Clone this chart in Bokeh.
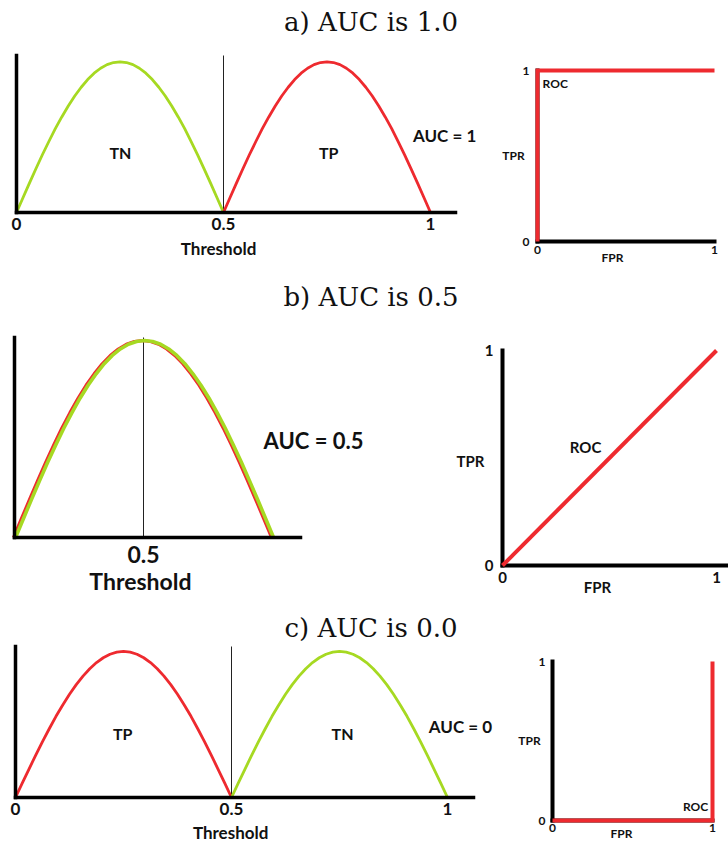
from bokeh.plotting import figure
from bokeh.layouts import column, row
from bokeh.models import Range1d, FixedTicker, Label, Div
from bokeh.embed import file_html
from bokeh.resources import INLINE

# ---- data -------------------------------------------------------------
# Half-wave score-density profile: position within the class span and relative height
shape_t = [i / 32 for i in range(33)]
shape_h = [0.000, 0.098, 0.195, 0.290, 0.383, 0.471, 0.556, 0.634, 0.707,
           0.773, 0.831, 0.882, 0.924, 0.957, 0.981, 0.995, 1.000,
           0.995, 0.981, 0.957, 0.924, 0.882, 0.831, 0.773, 0.707,
           0.634, 0.556, 0.471, 0.383, 0.290, 0.195, 0.098, 0.000]

titles = ["a) AUC is 1.0", "b) AUC is 0.5", "c) AUC is 0.0"]

# class score spans (start, end) on the threshold axis and curve peaks
a_neg_span, a_pos_span, a_peak = (0.0, 0.5), (0.5, 1.0), 0.96
b_neg_span, b_pos_span, b_peak = (0.004, 1.004), (-0.004, 0.996), 0.985
c_pos_span, c_neg_span, c_peak = (0.0, 0.5), (0.5, 1.0), 0.967

threshold = 0.5
ticks_a = [0, 0.5, 1]
ticks_b = [0.5]
ticks_c = [0, 0.5, 1]

# ROC curves (FPR, TPR)
roc_a_fpr, roc_a_tpr = [0, 0, 1], [0, 1, 1]
roc_b_fpr, roc_b_tpr = [0, 1], [0, 1]
roc_c_fpr, roc_c_tpr = [0, 1, 1], [0, 0, 1]

auc_text = ["AUC = 1", "AUC = 0.5", "AUC = 0"]

GREEN = "#a6d922"
RED = "#ee2a2f"
INK = "#111111"
FONT = "Lato"


def curve(span, peak):
    x0, x1 = span
    xs = [x0 + t * (x1 - x0) for t in shape_t]
    ys = [h * peak for h in shape_h]
    return xs, ys


def span_range(v0, p0, v1, p1, size, flip=False):
    """Range whose values v0/v1 land on pixels p0/p1 of a canvas `size` px long."""
    s = (p1 - p0) / (v1 - v0)
    if flip:  # pixels counted from the top
        end = v0 + p0 / -s
        return Range1d(end - size / -s, end)
    start = v0 - p0 / s
    return Range1d(start, start + size / s)


def title_div(text, height, center):
    html = ('<div style="font-family:\'DejaVu Serif\';font-size:26px;text-align:center;'
            'width:728px;position:relative;left:7px;line-height:%dpx;color:#111;">%s</div>'
            % (2 * center, text))
    return Div(text=html, width=728, height=height, margin=(0, 0, 0, 0))


def base_fig(width, height, xr, yr):
    p = figure(width=width, height=height, x_range=xr, y_range=yr,
               output_backend="svg", toolbar_location=None, margin=(0, 0, 0, 0),
               min_border=0)
    p.grid.visible = False
    p.outline_line_color = None
    return p


def style_axis(ax, ticks, width, tick_size):
    ax.fixed_location = 0
    ax.ticker = FixedTicker(ticks=ticks)
    ax.axis_line_width = width
    ax.axis_line_cap = "square"
    ax.major_tick_line_color = None
    ax.minor_tick_line_color = None
    ax.major_tick_out = 0
    ax.minor_tick_out = 0
    ax.major_label_text_font = FONT
    ax.major_label_text_font_style = "bold"
    ax.major_label_text_font_size = tick_size
    ax.major_label_text_color = INK


def text(p, x, y, s, size):
    p.add_layout(Label(x=x, y=y, text=s, text_align="center", text_baseline="middle",
                       text_font=FONT, text_font_style="bold", text_font_size=size,
                       text_color=INK))


def dist_fig(width, height, xr, yr, ticks, x_end, tick_size, tick_off, label_at, label_size):
    p = base_fig(width, height, xr, yr)
    ax, ay = p.xaxis[0], p.yaxis[0]
    style_axis(ax, ticks, 3.5, tick_size)
    ax.bounds = (0, x_end)
    ax.major_label_overrides = {0: "0", 0.5: "0.5", 1: "1"}
    ax.major_label_standoff = tick_off
    style_axis(ay, [], 3.5, tick_size)
    ay.bounds = (0, 1)
    text(p, label_at[0], label_at[1], "Threshold", label_size)
    # decision threshold
    p.segment(x0=[threshold], y0=[0], x1=[threshold], y1=[1], line_color="#222", line_width=1)
    return p


def roc_fig(width, height, xr, yr, x_end, font_size, x_tick_off, y_tick_off, tpr_at, fpr_at):
    p = base_fig(width, height, xr, yr)
    ax, ay = p.xaxis[0], p.yaxis[0]
    style_axis(ax, [0, 1], 4, font_size)
    style_axis(ay, [0, 1], 4, font_size)
    ax.bounds = (0, x_end)
    ay.bounds = (0, 1)
    ax.major_label_standoff = x_tick_off
    ay.major_label_standoff = y_tick_off
    text(p, tpr_at[0], tpr_at[1], "TPR", font_size)
    text(p, fpr_at[0], fpr_at[1], "FPR", font_size)
    return p


# ---- a) perfectly separated -------------------------------------------
da = dist_fig(480, 230, span_range(0, 16, 1, 430, 480), span_range(0, 172, 1, 15, 230, True),
              ticks_a, 1.06, "17px", 5, (0.488, -0.229), "17px")
xs, ys = curve(a_neg_span, a_peak)
da.line(xs, ys, line_color=GREEN, line_width=2.8, line_join="round")
xs, ys = curve(a_pos_span, a_peak)
da.line(xs, ys, line_color=RED, line_width=2.8, line_join="round")
text(da, 0.251, 0.38, "TN", "16px")
text(da, 0.754, 0.38, "TP", "16px")
text(da, 1.034, 0.49, auc_text[0], "17px")

ra = roc_fig(248, 230, span_range(0, 57, 1, 234, 248), span_range(0, 201, 1, 30, 230, True),
             1, "12px", 4, 8, (-0.136, 0.503), (0.424, -0.094))
ra.line(roc_a_fpr, roc_a_tpr, line_color=RED, line_width=4, line_join="miter", level="overlay")
text(ra, 0.1, 0.925, "ROC", "12px")

# ---- b) fully overlapping ----------------------------------------------
db = dist_fig(440, 278, span_range(0, 14, 1, 272, 440), span_range(0, 215, 1, 15, 278, True),
              ticks_b, 1.108, "23px", 8, (0.488, -0.215), "23px")
xs, ys = curve(b_pos_span, b_peak)
db.line(xs, ys, line_color=RED, line_width=3, line_join="round")
xs, ys = curve(b_neg_span, b_peak)
db.line(xs, ys, line_color=GREEN, line_width=3.6, line_join="round")
text(db, 1.159, 0.485, auc_text[1], "22px")

rb = roc_fig(288, 278, span_range(0, 62, 1, 276, 288), span_range(0, 243, 1, 28, 278, True),
             1.056, "15px", 6, 9, (-0.150, 0.488), (0.444, -0.102))
rb.line(roc_b_fpr, roc_b_tpr, line_color=RED, line_width=4, level="overlay")
text(rb, 0.388, 0.549, "ROC", "15px")

# ---- c) perfectly inverted ---------------------------------------------
dc = dist_fig(500, 207, span_range(0, 15, 1, 447, 500), span_range(0, 155, 1, 4, 207, True),
              ticks_c, 1.06, "17px", 5, (0.498, -0.232), "17px")
xs, ys = curve(c_pos_span, c_peak)
dc.line(xs, ys, line_color=RED, line_width=2.8, line_join="round")
xs, ys = curve(c_neg_span, c_peak)
dc.line(xs, ys, line_color=GREEN, line_width=2.8, line_join="round")
text(dc, 0.248, 0.424, "TP", "16px")
text(dc, 0.757, 0.424, "TN", "16px")
text(dc, 1.03, 0.47, auc_text[2], "17px")

rc = roc_fig(228, 207, span_range(0, 52, 1, 212, 228), span_range(0, 178, 1, 19, 207, True),
             1, "12px", 3, 7, (-0.144, 0.503), (0.431, -0.082))
rc.line(roc_c_fpr, roc_c_tpr, line_color=RED, line_width=4, line_join="miter", level="overlay")
text(rc, 0.894, 0.088, "ROC", "12px")

layout = column(
    title_div(titles[0], 40, 22), row(da, ra),
    title_div(titles[1], 52, 27), row(db, rb),
    title_div(titles[2], 42, 28), row(dc, rc),
    spacing=0,
)

open("out.html", "w").write(file_html(layout, INLINE))
